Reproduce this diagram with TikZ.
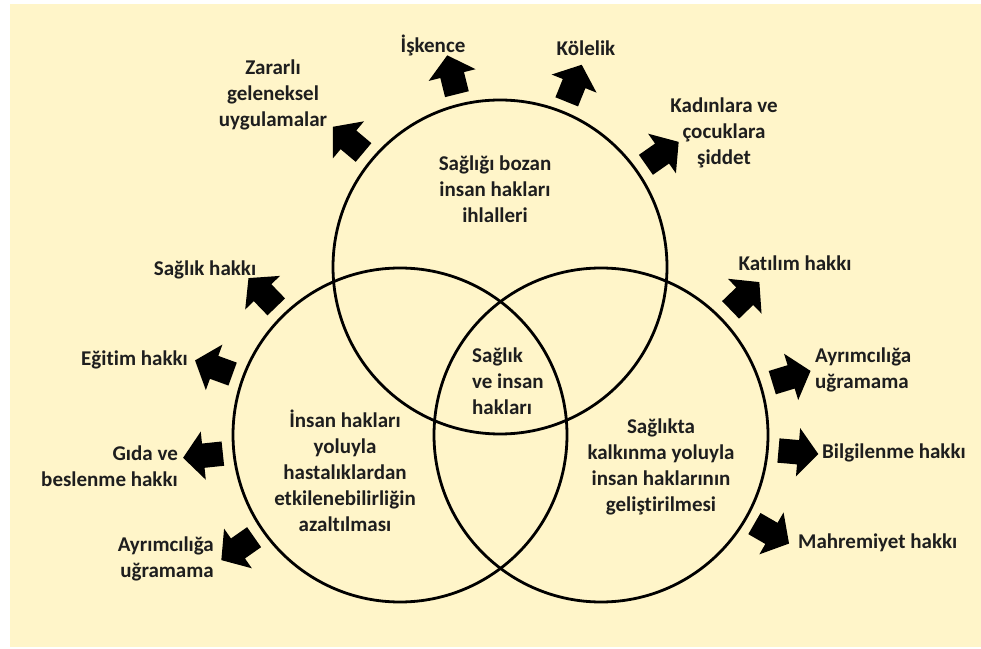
\documentclass[tikz,border=0pt]{standalone}
\usepackage{fontspec}
\setmainfont{Carlito}[Ligatures=NoCommon]
\usetikzlibrary{shapes.arrows,calc}
\definecolor{krem}{RGB}{255,245,201}
\definecolor{yazi}{RGB}{30,30,30}
\tikzset{
    daire/.style={line width=2.8pt},
    ok/.style={single arrow, fill=black, inner sep=12pt,
        minimum height=40pt, single arrow head extend=12pt,
        single arrow tip angle=100},
    etiket/.style={text=yazi, inner sep=0pt,
        font=\fontsize{21}{26}\selectfont\bfseries},
}
\begin{document}
\begin{tikzpicture}[x=1pt,y=1pt]
    % Zemin
    \fill[white] (0,0) rectangle (981,648);
    \fill[krem] (10,1) rectangle (981,644);
    \useasboundingbox (0,0) rectangle (981,648);
    % Daireler
    \coordinate (ust) at (500,381);
    \coordinate (sol) at (400,213);
    \coordinate (sag) at (601,213);
    \draw[daire] (ust) circle (167pt);
    \draw[daire] (sol) circle (167pt);
    \draw[daire] (sag) circle (167pt);

    % Ust dairenin oklari
    \node[ok, rotate=140] (ok1) at ($(ust)+(140:193pt)$) {};
    \node[ok, rotate=104] (ok2) at ($(ust)+(104:193pt)$) {};
    \node[ok, rotate=68] (ok3) at ($(ust)+(68:193pt)$) {};
    \node[ok, rotate=35] (ok4) at ($(ust)+(35:193pt)$) {};
    % Sol dairenin oklari
    \node[ok, rotate=134] (ok5) at ($(sol)+(134:193pt)$) {};
    \node[ok, rotate=160] (ok6) at ($(sol)+(160:193pt)$) {};
    \node[ok, rotate=186] (ok7) at ($(sol)+(186:193pt)$) {};
    \node[ok, rotate=215] (ok8) at ($(sol)+(215:193pt)$) {};
    % Sag dairenin oklari
    \node[ok, rotate=44] (ok9) at ($(sag)+(44:195pt)$) {};
    \node[ok, rotate=17] (ok10) at ($(sag)+(17:194pt)$) {};
    \node[ok, rotate=-5] (ok11) at ($(sag)+(-5:193pt)$) {};
    \node[ok, rotate=-30] (ok12) at ($(sag)+(-30:192pt)$) {};

    % Daire icindeki yazilar
    \node[etiket, align=center] (bozan) at (495,459)
    {Sağlığı bozan\\insan hakları\\ihlalleri};
    \node[etiket, align=center] (yoluyla) at (345,177)
    {İnsan hakları\\yoluyla\\hastalıklardan\\etkilenebilirliğin\\azaltılması};
    \node[etiket, align=left, anchor=west] (kesisim) at (472,267)
    {Sağlık\\ve insan\\hakları};
    \node[etiket, align=center] (kalkinma) at (661,181)
    {Sağlıkta\\kalkınma yoluyla\\insan haklarının\\geliştirilmesi};

    % Oklarin yazilari
    \node[etiket, align=center] (zararli) at (273,553)
    {Zararlı\\geleneksel\\uygulamalar};
    \node[etiket] (iskence) at (433,603) {İşkence};
    \node[etiket] (kolelik) at (586,600) {Kölelik};
    \node[etiket, align=center] (kadin) at (724,515)
    {Kadınlara ve\\çocuklara\\şiddet};
    \node[etiket] (saglik) at (205,378) {Sağlık hakkı};
    \node[etiket, anchor=east] (egitim) at (188,288) {Eğitim hakkı};
    \node[etiket, align=right, anchor=east] (gida) at (178,182)
    {Gıda ve\\beslenme hakkı};
    \node[etiket, align=right, anchor=east] (ayrim1) at (214,89)
    {Ayrımcılığa\\uğramama};
    \node[etiket] (katilim) at (795,385) {Katılım hakkı};
    \node[etiket, align=left, anchor=west] (ayrim2) at (815,278)
    {Ayrımcılığa\\uğramama};
    \node[etiket, anchor=west] (bilgi) at (822,195) {Bilgilenme hakkı};
    \node[etiket, anchor=west] (mahrem) at (798,105) {Mahremiyet hakkı};
\end{tikzpicture}
\end{document}
